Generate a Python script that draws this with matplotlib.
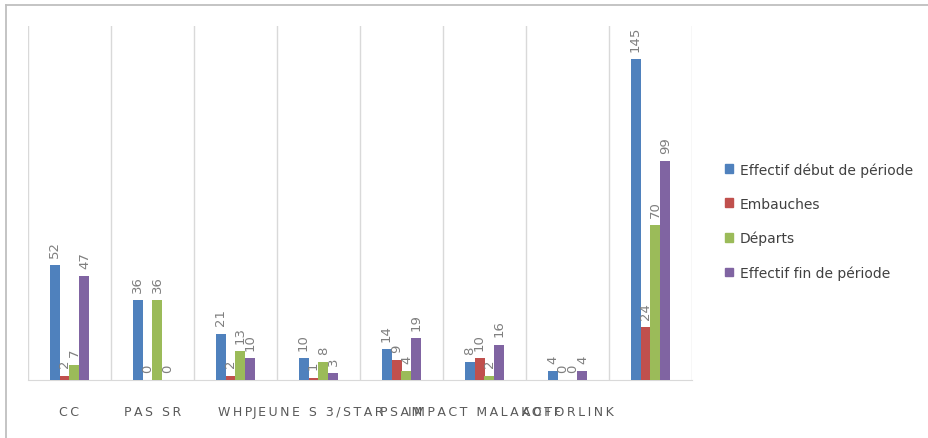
import matplotlib
matplotlib.use("Agg")
import matplotlib.pyplot as plt
from matplotlib.patches import Rectangle
from matplotlib.lines import Line2D
import numpy as np

categories = ["CC", "PAS SR", "WHP", "JEUNE S 3/STAR", "PSAM", "IMPACT MALAKOFF", "ACTORLINK", ""]
series = ["Effectif début de période", "Embauches", "Départs", "Effectif fin de période"]
debut = [52, 36, 21, 10, 14, 8, 4, 145]
embauches = [2, 0, 2, 1, 9, 10, 0, 24]
departs = [7, 36, 13, 8, 4, 2, 0, 70]
fin = [47, 0, 10, 3, 19, 16, 4, 99]
colors = ["#4F81BD", "#C0504D", "#9BBB59", "#8064A2"]

W, H = 929, 439
fig = plt.figure(figsize=(W / 100, H / 100), dpi=100)
# outer chart frame: only top and left edges are visible in the crop
fig.lines.append(Line2D([6 / W, 1], [1 - 5.5 / H, 1 - 5.5 / H], transform=fig.transFigure,
                        color="#BFBFBF", lw=1.3))
fig.lines.append(Line2D([6 / W, 6 / W], [0, 1 - 5.5 / H], transform=fig.transFigure,
                        color="#BFBFBF", lw=1.3))
ax = fig.add_axes([28 / W, 58 / H, 664 / W, 354 / H])

n = len(categories)
x = np.arange(n)
bw = 0.12
vals = [debut, embauches, departs, fin]
for i, (v, c, name) in enumerate(zip(vals, colors, series)):
    pos = x + (i - 1.5) * bw
    ax.bar(pos, v, width=bw, color=c, label=name, zorder=3)
    for xx, yy in zip(pos, v):
        ax.annotate(str(yy), (xx, yy), xytext=(0, 6), textcoords="offset points",
                    rotation=90, ha="center", va="bottom", fontsize=9.5, color="#7F7F7F")

ax.set_xlim(-0.5, n - 0.5)
ax.set_ylim(0, 160)
for b in np.arange(-0.5, n, 1.0):
    ax.axvline(b, color="#D9D9D9", lw=1, zorder=1)
for s in ["top", "right", "left"]:
    ax.spines[s].set_visible(False)
ax.spines["bottom"].set_color("#D9D9D9")
ax.set_yticks([])
ax.set_xticks(x)
ax.set_xticklabels(["\u2009".join(list(c)) for c in categories], fontsize=9, color="#595959")
ax.tick_params(axis="x", length=0, pad=18)

handles = [Rectangle((0, 0), 1, 1, color=c) for c in colors]
fig.legend(handles, series, loc="center left", bbox_to_anchor=(712 / W, 1 - 222 / H),
           frameon=False, fontsize=10, handlelength=0.6, handleheight=0.6,
           labelspacing=1.45, handletextpad=0.5, labelcolor="#404040")

fig.savefig("out.png", dpi=100)
